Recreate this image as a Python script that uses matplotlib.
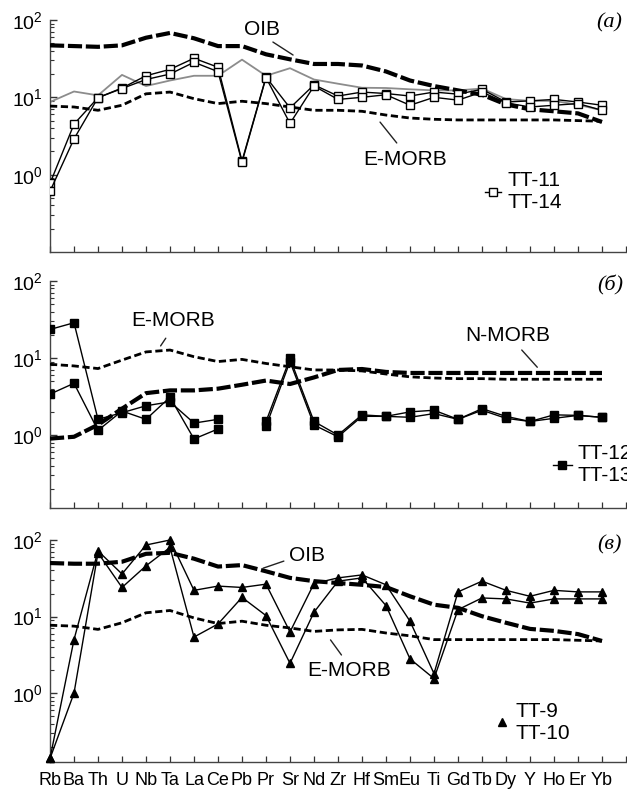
import numpy as np
import matplotlib
matplotlib.use("Agg")
import matplotlib.pyplot as plt
from matplotlib.lines import Line2D

plt.rcParams["font.family"] = ["Liberation Sans", "DejaVu Sans"]
plt.rcParams["mathtext.fontset"] = "custom"
plt.rcParams["mathtext.rm"] = "Liberation Sans"
plt.rcParams["mathtext.it"] = "Liberation Sans:italic"

nan = np.nan

# element order on the spider diagram
elements = ["Rb", "Ba", "Th", "U", "Nb", "Ta", "La", "Ce", "Pb", "Pr", "Sr", "Nd",
            "Zr", "Hf", "Sm", "Eu", "Ti", "Gd", "Tb", "Dy", "Y", "Ho", "Er", "Yb"]

# panel (a): reference curves and samples TT-11, TT-14
oib_a = [47, 46, 45, 47, 59, 68, 58, 46, 46, 36, 31, 27,
         27, 25.8, 21.6, 16.5, 14.0, 12.3, 10.8, 8.1, 7.0, 6.6, 6.2, 4.8]
emorb_a = [7.7, 7.5, 6.8, 7.9, 11.1, 11.7, 9.6, 8.3, 8.9, 8.3, 7.5, 6.8,
           6.8, 6.6, 5.9, 5.4, 5.2, 5.1, 5.1, 5.1, 5.1, 5.1, 5.0, 4.9]
grey_a = [8.7, 11.9, 10.6, 19.5, 14, 16.5, 19, 19, 30.7, 19, 23.8, 17,
          15, 13.3, 13.2, 12.7, 12.3, 12.3, 13, 9.5, 9, 9, 8, 6.8]
tt11 = [0.77, 4.5, 9.9, 13.2, 19, 23, 32, 24.5, 1.5, 18.3, 7.3, 14.5,
        10.4, 11.7, 11.2, 10.4, 11.7, 11, 12.7, 8.7, 9.0, 9.4, 8.7, 7.9]
tt14 = [0.61, 2.9, 9.9, 13, 17, 20, 28.4, 21.5, 1.45, 18, 4.6, 14,
        9.4, 10, 10.8, 7.9, 10, 9.2, 11.7, 8.5, 7.5, 7.9, 8.3, 6.8]

# panel (б): reference curves and samples TT-12, TT-13 (no Pb)
emorb_b = [8.3, 7.9, 7.3, 9.4, 12, 12.7, 10.4, 9.0, 9.6, 8.5, 7.7, 7.0,
           7.0, 6.8, 6.2, 5.7, 5.5, 5.4, 5.4, 5.3, 5.3, 5.3, 5.3, 5.3]
nmorb_b = [0.9, 0.95, 1.36, 2.2, 3.5, 3.8, 3.8, 4.0, 4.5, 5.1, 4.6, 5.6,
           7.0, 7.2, 6.6, 6.4, 6.4, 6.4, 6.4, 6.4, 6.4, 6.4, 6.4, 6.4]
tt12 = [23.5, 28.7, 1.6, 1.95, 2.4, 2.7, 1.43, 1.6, nan, 1.5, 9.9, 1.5,
        1.0, 1.83, 1.75, 2.0, 2.1, 1.6, 2.2, 1.75, 1.5, 1.83, 1.8, 1.7]
tt13 = [3.4, 4.7, 1.15, 2.05, 1.6, 3.1, 0.89, 1.2, nan, 1.3, 9.0, 1.35,
        0.95, 1.75, 1.75, 1.7, 1.9, 1.6, 2.1, 1.65, 1.5, 1.65, 1.8, 1.7]

# panel (в): reference curves and samples TT-9, TT-10
oib_c = [50, 49, 49, 52, 66, 68, 57, 45, 47, 39, 32, 29,
         27.4, 26, 24.3, 18.4, 14.3, 13, 10.1, 8.3, 6.9, 6.5, 5.9, 4.8]
emorb_c = [7.7, 7.5, 6.8, 8.3, 11.2, 12, 9.6, 8.1, 8.7, 7.7, 7.1, 6.4,
           6.7, 6.8, 6.1, 5.6, 5.0, 5.0, 5.0, 5.0, 5.0, 5.0, 4.9, 4.8]
tt9 = [0.14, 5.0, 72, 36, 86, 100, 22, 25, 24, 26.5, 6.3, 27,
       32, 35, 26, 8.7, 1.8, 21, 29, 22, 18.4, 22, 21, 21]
tt10 = [0.14, 1.0, 68, 24, 46, 80, 5.4, 8.0, 17.8, 10.3, 2.45, 11.4,
        29, 32, 13.9, 2.8, 1.55, 12.3, 17.5, 17, 15, 17, 17, 17]

x = np.arange(len(elements))

thick_dash = dict(color="black", lw=3.0, ls=(0, (3.4, 0.9)), zorder=3)
thin_dash = dict(color="black", lw=2.0, ls=(0, (2.6, 1.3)), zorder=3)
label_fs = 15

fig = plt.figure(figsize=(6.27, 7.89), dpi=100)
left, width = 50 / 627, 576 / 627
ax_a = fig.add_axes([left, 1 - 252 / 789, width, 232 / 789])
ax_b = fig.add_axes([left, 1 - 508 / 789, width, 227 / 789])
ax_c = fig.add_axes([left, 1 - 762 / 789, width, 222 / 789])


def style_axis(ax, ymin, show_labels):
    ax.set_yscale("log")
    ax.set_xlim(0, 24)
    ax.set_ylim(ymin, 100)
    for side in ["top", "right"]:
        ax.spines[side].set_visible(False)
    for side in ["left", "bottom"]:
        ax.spines[side].set_color("#444444")
        ax.spines[side].set_linewidth(1.0)
    ax.set_yticks([1, 10, 100])
    ax.set_yticklabels([r"$10^0$", r"$10^1$", r"$10^2$"], fontsize=14)
    ax.set_xticks(np.arange(25))
    if show_labels:
        ax.set_xticklabels(elements + [""], fontsize=13)
    else:
        ax.set_xticklabels([])
    ax.tick_params(axis="both", which="both", direction="in", color="#333333")
    ax.tick_params(axis="y", which="major", length=5, width=1.0, pad=5)
    ax.tick_params(axis="y", which="minor", length=3, width=0.8)
    ax.tick_params(axis="x", which="major", length=4, width=0.9, pad=7)


def leader(ax, p0, p1):
    ax.annotate("", xy=p1, xytext=p0, xycoords="axes fraction",
                textcoords="axes fraction",
                arrowprops=dict(arrowstyle="-", lw=1.0, color="#222222",
                                shrinkA=0, shrinkB=0))


# (a)
style_axis(ax_a, 0.1, False)
ax_a.plot(x, oib_a, **thick_dash)
ax_a.plot(x, emorb_a, **thin_dash)
ax_a.plot(x, grey_a, color="#8c8c8c", lw=1.3, zorder=2)
for vals in [tt11, tt14]:
    ax_a.plot(x, vals, color="black", lw=1.0, marker="s", ms=5.5,
              mfc="white", mec="black", mew=1.0, zorder=4)
ax_a.text(0.368, 0.961, "OIB", transform=ax_a.transAxes, fontsize=label_fs,
          ha="center", va="center")
leader(ax_a, (0.387, 0.905), (0.422, 0.849))
ax_a.text(0.616, 0.397, "E-MORB", transform=ax_a.transAxes, fontsize=label_fs,
          ha="center", va="center")
leader(ax_a, (0.602, 0.470), (0.573, 0.560))
ax_a.text(0.970, 0.987, "(a)", transform=ax_a.transAxes, fontsize=16,
          family="Liberation Serif", style="italic", ha="center", va="center")
h_a = Line2D([], [], color="black", lw=1.0, marker="s", ms=5.5,
             mfc="white", mec="black", mew=1.0)
ax_a.legend([h_a], ["TT-11\nTT-14"], loc="center left",
            bbox_to_anchor=(0.755, 0.259), frameon=False, fontsize=label_fs,
            handlelength=0.75, handletextpad=0.35, borderpad=0,
            borderaxespad=0)

# (б)
style_axis(ax_b, 0.113, False)
ax_b.plot(x, nmorb_b, **thick_dash)
ax_b.plot(x, emorb_b, **thin_dash)
for vals in [tt12, tt13]:
    ax_b.plot(x, vals, color="black", lw=1.0, marker="s", ms=5.5,
              mfc="black", mec="black", zorder=4)
ax_b.text(0.214, 0.826, "E-MORB", transform=ax_b.transAxes, fontsize=label_fs,
          ha="center", va="center")
leader(ax_b, (0.201, 0.748), (0.192, 0.714))
ax_b.text(0.794, 0.760, "N-MORB", transform=ax_b.transAxes, fontsize=label_fs,
          ha="center", va="center")
leader(ax_b, (0.819, 0.696), (0.846, 0.620))
ax_b.text(0.972, 0.982, "(б)", transform=ax_b.transAxes, fontsize=16,
          family="Liberation Serif", style="italic", ha="center", va="center")
h_b = Line2D([], [], color="black", lw=1.0, marker="s", ms=5.5,
             mfc="black", mec="black")
ax_b.legend([h_b], ["TT-12\nTT-13"], loc="center left",
            bbox_to_anchor=(0.873, 0.19), frameon=False, fontsize=label_fs,
            handlelength=0.9, handletextpad=0.3, borderpad=0,
            borderaxespad=0)

# (в)
style_axis(ax_c, 0.126, True)
ax_c.plot(x, oib_c, **thick_dash)
ax_c.plot(x, emorb_c, **thin_dash)
for vals in [tt9, tt10]:
    ax_c.plot(x, vals, color="black", lw=1.0, marker="^", ms=6,
              mfc="black", mec="black", zorder=4, clip_on=False)
ax_c.text(0.447, 0.932, "OIB", transform=ax_c.transAxes, fontsize=label_fs,
          ha="center", va="center")
leader(ax_c, (0.406, 0.905), (0.370, 0.873))
ax_c.text(0.519, 0.411, "E-MORB", transform=ax_c.transAxes, fontsize=label_fs,
          ha="center", va="center")
leader(ax_c, (0.506, 0.482), (0.487, 0.550))
ax_c.text(0.972, 0.977, "(в)", transform=ax_c.transAxes, fontsize=16,
          family="Liberation Serif", style="italic", ha="center", va="center")
h_c = Line2D([], [], color="black", lw=0, marker="^", ms=6,
             mfc="black", mec="black")
ax_c.legend([h_c], ["TT-9\nTT-10"], loc="center left",
            bbox_to_anchor=(0.776, 0.18), frameon=False, fontsize=label_fs,
            handlelength=0.5, handletextpad=0.4, borderpad=0,
            borderaxespad=0)

fig.savefig("out.png", dpi=100)
